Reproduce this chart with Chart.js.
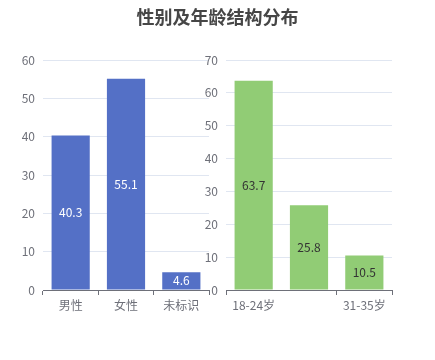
<!DOCTYPE html>
<html>
<head>
<meta charset="utf-8">
<script src="https://cdn.jsdelivr.net/npm/chart.js@4/dist/chart.umd.min.js"></script>
<style>
  body { margin: 0; background: #fff; }
  #wrap { position: relative; width: 435px; height: 360px; }
  #wrap canvas { position: absolute; left: 0; top: 0; }
  #title {
    position: absolute; left: 0; top: 3px; width: 435px; text-align: center;
    font: bold 18px "Noto Sans CJK SC", sans-serif; color: #464646;
  }
</style>
</head>
<body>
<div id="wrap">
  <canvas id="genderChart" width="435" height="360"></canvas>
  <canvas id="ageChart" width="435" height="360"></canvas>
  <div id="title">性别及年龄结构分布</div>
</div>
<script>
// Data
const genderLabels = ['男性', '女性', '未标识'];
const genderValues = [40.3, 55.1, 4.6];
const ageLabels = ['18-24岁', '25-30岁', '31-35岁'];
const ageValues = [63.7, 25.8, 10.5];
const genderTicks = [0, 10, 20, 30, 40, 50, 60];
const ageTicks = [0, 10, 20, 30, 40, 50, 60, 70];

const FONT = '"Noto Sans CJK SC", sans-serif';
const AXIS = '#6e7079';
const GRID = '#e0e6f1';

// draws the value in the middle of each bar
const barValues = {
  id: 'barValues',
  afterDatasetsDraw(chart, args, opts) {
    const ctx = chart.ctx;
    const meta = chart.getDatasetMeta(0);
    const data = chart.data.datasets[0].data;
    ctx.save();
    ctx.font = '12px ' + FONT;
    ctx.fillStyle = opts.color;
    ctx.textAlign = 'center';
    ctx.textBaseline = 'middle';
    meta.data.forEach((bar, i) => {
      ctx.fillText(data[i].toFixed(1), bar.x, (bar.y + bar.base) / 2);
    });
    ctx.restore();
  }
};

function makeChart(id, labels, values, ticks, color, textColor, padding, hideLabel) {
  const maxVal = ticks[ticks.length - 1];
  return new Chart(document.getElementById(id), {
    type: 'bar',
    data: {
      labels: labels,
      datasets: [{
        data: values,
        backgroundColor: color,
        categoryPercentage: 0.69,
        barPercentage: 1
      }]
    },
    options: {
      responsive: false,
      animation: false,
      devicePixelRatio: 1,
      layout: { padding: padding },
      plugins: {
        legend: { display: false },
        tooltip: { enabled: false },
        barValues: { color: textColor }
      },
      scales: {
        x: {
          afterFit(scale) { scale.height = 70; },
          border: { color: AXIS, width: 1 },
          grid: {
            drawOnChartArea: false,
            drawTicks: true,
            tickLength: 5,
            color: (c) => (hideLabel !== null && c.index === hideLabel) ? 'rgba(0,0,0,0)' : AXIS
          },
          ticks: {
            autoSkip: false,
            maxRotation: 0,
            padding: 3,
            color: AXIS,
            font: { family: FONT, size: 12 },
            callback: (v, i) => i === hideLabel ? '' : labels[i]
          }
        },
        y: {
          min: 0,
          max: maxVal,
          afterFit(scale) { scale.width = 43; },
          afterBuildTicks(scale) { scale.ticks = ticks.map(v => ({ value: v })); },
          border: { display: false },
          grid: { color: GRID, drawTicks: false },
          ticks: {
            padding: 8,
            color: AXIS,
            font: { family: FONT, size: 12 }
          }
        }
      }
    },
    plugins: [barValues]
  });
}

makeChart('genderChart', genderLabels, genderValues, genderTicks, '#5470c6', '#ffffff',
  { left: 0, right: 226, top: 60, bottom: 0 }, null);
makeChart('ageChart', ageLabels, ageValues, ageTicks, '#91cc75', '#333333',
  { left: 183, right: 43, top: 60, bottom: 0 }, 1);
</script>
</body>
</html>
